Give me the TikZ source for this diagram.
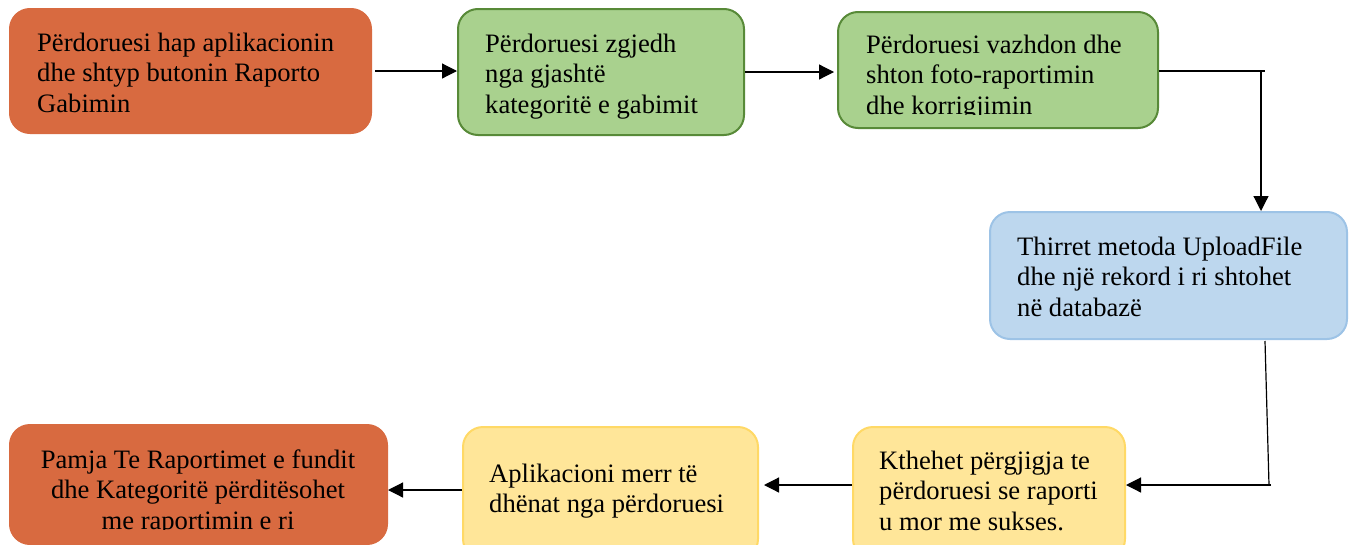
\documentclass[tikz,border=0pt]{standalone}
\usepackage{fontspec}
\setmainfont{Liberation Serif}
\usetikzlibrary{arrows.meta}
\definecolor{orangeF}{RGB}{216,106,64}
\definecolor{greenF}{RGB}{169,209,142}
\definecolor{greenD}{RGB}{88,138,56}
\definecolor{blueF}{RGB}{189,215,238}
\definecolor{blueD}{RGB}{157,195,230}
\definecolor{yellowF}{RGB}{255,230,153}
\definecolor{yellowD}{RGB}{255,217,102}
\tikzset{
  box/.style={rounded corners=20pt, inner sep=0pt, line width=2pt},
  txt/.style={inner sep=0pt, align=left, anchor=base west, font=\fontsize{26.6}{30.5}\selectfont},
  ctxt/.style={inner sep=0pt, align=center, anchor=base, font=\fontsize{26.6}{30.5}\selectfont},
  arr/.style={line width=1.2pt, -{Triangle[length=15pt,width=15pt]}},
  ln/.style={line width=1.2pt}
}
\begin{document}
\begin{tikzpicture}[x=1pt,y=-1pt]
\useasboundingbox (0,0) rectangle (1353,544);
\clip (0,0) rectangle (1353,544);
% boxes
\node[box, fill=orangeF, draw=orangeF, minimum width=361pt, minimum height=124pt] (b1) at (190.5,71) {};
\node[box, fill=greenF, draw=greenD, minimum width=286pt, minimum height=126pt] (b2) at (601,72) {};
\node[box, fill=greenF, draw=greenD, minimum width=320pt, minimum height=116pt] (b3) at (998,70) {};
\node[box, fill=blueF, draw=blueD, minimum width=357pt, minimum height=127pt] (b4) at (1168.5,275.5) {};
\node[box, fill=yellowF, draw=yellowD, minimum width=272pt, minimum height=132pt] (b5) at (989,493) {};
\node[box, fill=yellowF, draw=yellowD, minimum width=295pt, minimum height=132pt] (b6) at (610.5,493) {};
\node[box, fill=orangeF, draw=orangeF, minimum width=377pt, minimum height=119pt] (b7) at (198.5,484.5) {};
% texts (anchor at baseline of last line)
\node[txt] (t1) at (37,112) {Përdoruesi hap aplikacionin\\dhe shtyp butonin Raporto\\Gabimin};
\node[txt] (t2) at (485,113) {Përdoruesi zgjedh\\nga gjashtë\\kategoritë e gabimit};
\begin{scope}
\clip (840,14) rectangle (1156,114);
\node[txt] (t3) at (866,114) {Përdoruesi vazhdon dhe\\shton foto-raportimin\\dhe korrigjimin};
\end{scope}
\node[txt] (t4) at (1017,316) {Thirret metoda UploadFile\\dhe një rekord i ri shtohet\\në databazë};
\node[txt] (t5) at (879,530) {Kthehet përgjigja te\\përdoruesi se raporti\\u mor me sukses.};
\node[txt] (t6) at (489,512.5) {Aplikacioni merr të\\dhënat nga përdoruesi};
\begin{scope}
\clip (12,426) rectangle (385,529);
\node[ctxt] (t7) at (198,529) {Pamja Te Raportimet e fundit\\dhe Kategoritë përditësohet\\me raportimin e ri};
\end{scope}
% connectors
\coordinate (k1) at (1261,71);
\coordinate (k3) at (1265,341);
\coordinate (k2) at (1269,485);
\coordinate (k4) at (0,490);
\draw[arr] ([xshift=3pt]b1.east) -- (b1.east -| b2.west);
\draw[arr, shorten >=3pt] (b2.east) -- (b2.east -| b3.west);
\draw[ln] (b3.east |- k1) -- ([xshift=4pt]k1);
\draw[arr] (k1) -- (k1 |- b4.north);
\draw[ln] (k3) -- (k2);
\draw[arr] ([xshift=2pt]k2) -- (b5.east |- k2);
\draw[arr, shorten >=5pt] (b5.west |- k2) -- (b6.east |- k2);
\draw[arr] (b6.west |- k4) -- (b7.east |- k4);
\end{tikzpicture}
\end{document}
